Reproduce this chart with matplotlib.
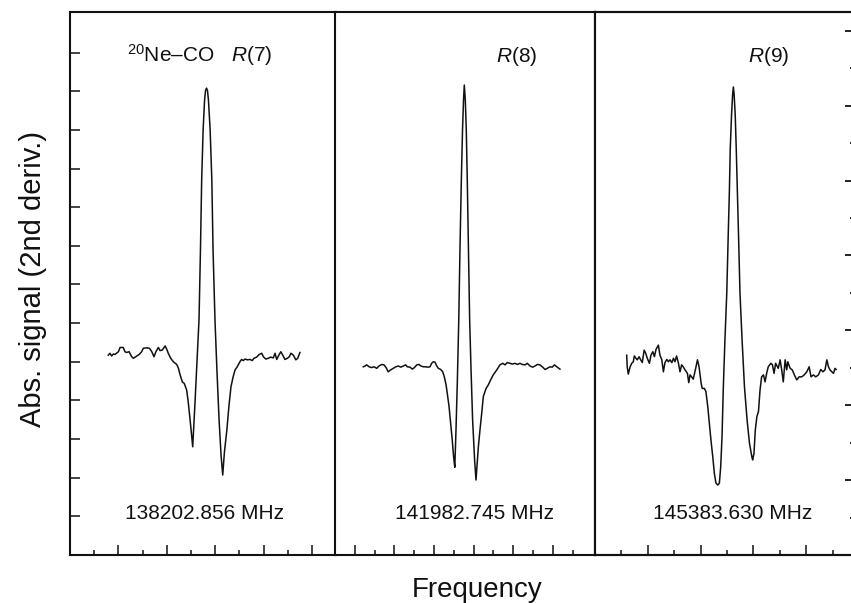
import matplotlib
matplotlib.use('Agg')
import matplotlib.pyplot as plt
from matplotlib.ticker import FixedLocator

plt.rcParams['font.family'] = ['Liberation Sans', 'DejaVu Sans']
plt.rcParams['mathtext.fontset'] = 'custom'
plt.rcParams['mathtext.rm'] = 'Liberation Sans'
plt.rcParams['mathtext.it'] = 'Liberation Sans:italic'

# ---------------- data (arbitrary units) ----------------
transitions = ['R(7)', 'R(8)', 'R(9)']
frequencies = ['138202.856 MHz', '141982.745 MHz', '145383.630 MHz']
species = '20Ne–CO'

x_r7 = [1.58, 1.65, 1.72, 1.79, 1.86, 2.00, 2.07, 2.20, 2.27, 2.34, 2.44, 2.55, 2.62, 2.76, 2.86,
        2.96, 3.03, 3.17, 3.28, 3.38, 3.47, 3.55, 3.65, 3.72, 3.81, 3.93, 4.00, 4.06, 4.16, 4.27,
        4.41, 4.48, 4.55, 4.64, 4.72, 4.82, 4.89, 4.99, 5.07, 5.17, 5.25, 5.33, 5.39, 5.44, 5.50,
        5.56, 5.60, 5.64, 5.68, 5.72, 5.79, 5.86, 5.91, 5.99, 6.07, 6.16, 6.24, 6.31, 6.38, 6.48,
        6.57, 6.65, 6.74, 6.82, 6.91, 7.02, 7.09, 7.16, 7.23, 7.33, 7.44, 7.53, 7.60, 7.71, 7.82,
        7.92, 7.99, 8.09, 8.19, 8.29, 8.40, 8.47, 8.54, 8.61, 8.71, 8.79, 8.88, 8.98, 9.06, 9.13,
        9.23, 9.33, 9.41, 9.50]
y_r7 = [5.17, 5.22, 5.15, 5.20, 5.19, 5.26, 5.37, 5.37, 5.26, 5.24, 5.26, 5.13, 5.09, 5.15, 5.19,
        5.26, 5.35, 5.36, 5.35, 5.26, 5.13, 5.26, 5.37, 5.29, 5.30, 5.41, 5.32, 5.22, 5.09, 5.00,
        4.93, 4.83, 4.66, 4.48, 4.44, 4.27, 3.93, 3.32, 2.80, 4.01, 5.05, 6.08, 7.89, 9.70, 11.00,
        11.77, 12.02, 12.08, 12.02, 11.77, 11.00, 9.70, 7.89, 6.08, 4.79, 3.49, 2.59, 2.07, 2.66, 3.23,
        3.88, 4.35, 4.61, 4.79, 4.87, 5.00, 5.06, 5.03, 5.07, 5.05, 5.06, 5.03, 5.09, 5.12, 5.19,
        5.22, 5.13, 5.07, 5.09, 5.12, 5.10, 5.22, 5.06, 5.15, 5.26, 5.17, 5.06, 5.09, 5.13, 5.22,
        5.17, 5.05, 5.09, 5.24]

x_r8 = [1.43, 1.52, 1.60, 1.72, 1.85, 1.97, 2.11, 2.22, 2.36, 2.47, 2.58, 2.69, 2.81, 2.94, 3.07,
        3.20, 3.32, 3.45, 3.57, 3.65, 3.79, 3.90, 4.01, 4.13, 4.24, 4.34, 4.46, 4.58, 4.68, 4.80,
        4.88, 4.96, 5.05, 5.14, 5.22, 5.34, 5.44, 5.52, 5.61, 5.67, 5.76, 5.84, 5.92, 5.99, 6.05,
        6.11, 6.18, 6.25, 6.31, 6.38, 6.44, 6.49, 6.53, 6.58, 6.63, 6.68, 6.74, 6.80, 6.87, 6.95,
        7.05, 7.12, 7.24, 7.32, 7.41, 7.49, 7.63, 7.74, 7.86, 7.99, 8.17, 8.33, 8.47, 8.59, 8.70,
        8.84, 8.95, 9.09, 9.21, 9.34, 9.46, 9.60, 9.71, 9.85, 9.98, 10.10, 10.22, 10.35, 10.49, 10.61,
        10.72, 10.86, 10.97, 11.08, 11.20, 11.36]
y_r8 = [4.87, 4.89, 4.92, 4.87, 4.85, 4.87, 4.83, 4.89, 4.93, 4.92, 4.85, 4.74, 4.79, 4.83, 4.87,
        4.89, 4.86, 4.89, 4.92, 4.87, 4.86, 4.81, 4.85, 4.92, 4.93, 4.89, 4.87, 4.87, 4.86, 4.87,
        4.96, 5.00, 4.99, 4.89, 4.83, 4.80, 4.74, 4.61, 4.40, 4.18, 3.84, 3.41, 2.98, 2.54, 2.27,
        3.23, 4.53, 6.08, 7.89, 9.70, 11.00, 11.77, 12.16, 11.77, 11.00, 9.70, 7.89, 6.08, 4.79, 3.49,
        2.46, 1.94, 2.80, 3.23, 3.67, 4.10, 4.31, 4.40, 4.53, 4.66, 4.79, 4.92, 4.96, 4.92, 4.98,
        4.96, 4.94, 4.96, 4.93, 4.96, 4.93, 4.92, 4.96, 4.89, 4.86, 4.89, 4.93, 4.92, 4.86, 4.80,
        4.83, 4.87, 4.86, 4.92, 4.87, 4.81]

x_r9 = [1.20, 1.22, 1.26, 1.33, 1.39, 1.45, 1.49, 1.55, 1.60, 1.67, 1.73, 1.79, 1.86, 1.92, 1.98,
        2.06, 2.12, 2.19, 2.25, 2.31, 2.40, 2.46, 2.53, 2.59, 2.65, 2.72, 2.78, 2.84, 2.91, 2.97,
        3.03, 3.09, 3.16, 3.22, 3.28, 3.34, 3.41, 3.50, 3.55, 3.60, 3.66, 3.72, 3.80, 3.88, 3.94,
        4.02, 4.06, 4.14, 4.20, 4.27, 4.33, 4.39, 4.46, 4.52, 4.58, 4.65, 4.71, 4.76, 4.81, 4.86,
        4.92, 4.99, 5.04, 5.09, 5.12, 5.17, 5.21, 5.24, 5.27, 5.31, 5.35, 5.39, 5.44, 5.49, 5.57,
        5.66, 5.76, 5.85, 5.94, 5.97, 6.02, 6.07, 6.13, 6.19, 6.25, 6.31, 6.38, 6.44, 6.50, 6.56,
        6.66, 6.72, 6.78, 6.84, 6.94, 7.01, 7.07, 7.13, 7.20, 7.26, 7.30, 7.39, 7.47, 7.55, 7.64,
        7.73, 7.83, 7.92, 8.02, 8.11, 8.18, 8.27, 8.36, 8.46, 8.55, 8.63, 8.71, 8.78, 8.84, 8.90,
        8.97, 9.03, 9.09, 9.13]
y_r9 = [5.17, 4.87, 4.68, 4.87, 4.96, 5.00, 5.15, 5.09, 5.05, 5.13, 5.05, 4.98, 5.30, 5.22, 5.09,
        4.96, 5.17, 5.26, 5.13, 5.32, 5.43, 5.17, 5.05, 4.74, 4.98, 5.06, 5.00, 5.05, 4.98, 5.09,
        5.00, 5.15, 4.96, 4.74, 4.92, 4.87, 4.79, 4.70, 4.46, 4.66, 4.61, 4.55, 4.79, 5.05, 4.87,
        4.44, 4.31, 4.31, 4.23, 3.84, 3.41, 2.98, 2.54, 2.11, 1.86, 1.81, 1.86, 2.28, 3.06, 4.35,
        5.56, 6.78, 8.15, 9.44, 10.48, 11.38, 11.90, 12.11, 11.90, 11.38, 10.48, 9.44, 8.15, 6.78, 5.56,
        4.35, 3.49, 2.89, 2.54, 2.46, 2.63, 3.23, 3.58, 3.71, 4.27, 4.61, 4.66, 4.48, 4.70, 4.87,
        4.96, 4.92, 4.70, 4.96, 4.83, 5.05, 4.79, 4.48, 5.05, 4.79, 5.00, 4.83, 4.79, 4.66, 4.53,
        4.61, 4.61, 4.66, 4.74, 4.87, 4.61, 4.66, 4.61, 4.66, 4.80, 4.74, 4.79, 5.05, 4.87, 4.79,
        4.74, 4.70, 4.83, 4.80]

xs = [x_r7, x_r8, x_r9]
ys = [y_r7, y_r8, y_r9]

# ---------------- layout ----------------
W, H = 851, 603
fig = plt.figure(figsize=(W / 100, H / 100), dpi=100)
ink = '#111111'
spine_lw = 1.5
panel_px = [(70, 336), (335, 595), (595, 853)]
xlims = [(0, 10.99), (0, 13.13), (0, 9.77)]
major_x = [[2, 4, 6, 8, 10], [1, 3, 5, 7, 9, 11], [2, 4, 6, 8]]
minor_x = [[1, 3, 5, 7, 9], [2, 4, 6, 8, 10, 12], [1, 3, 5, 7, 9]]
label_pos = [0.214, 0.619, 0.593]
freq_pos = [0.207, 0.231, 0.224]

axes = []
for i, (l, r) in enumerate(panel_px):
    ax = fig.add_axes([l / W, 48 / H, (r - l) / W, 543 / H])
    ax.plot(xs[i], ys[i], color=ink, lw=1.1, solid_joinstyle='round')
    ax.set_xlim(*xlims[i])
    ax.set_ylim(0, 14.05)
    for s in ax.spines.values():
        s.set_linewidth(spine_lw)
        s.set_color(ink)
    ax.xaxis.set_major_locator(FixedLocator(major_x[i]))
    ax.xaxis.set_minor_locator(FixedLocator(minor_x[i]))
    ax.tick_params(axis='x', which='major', direction='in', length=7.5, width=1.1,
                   color=ink, labelbottom=False, top=False)
    ax.tick_params(axis='x', which='minor', direction='in', length=3.8, width=1.1,
                   color=ink, top=False)
    if i == 0:
        ax.yaxis.set_major_locator(FixedLocator(list(range(1, 14))))
        ax.tick_params(axis='y', which='major', direction='in', length=7, width=1.1,
                       color=ink, labelleft=False, right=False)
    else:
        ax.set_yticks([])
    if i == 0:
        txt = r'$^{20}$Ne–CO   $\mathit{R}$(7)'
    else:
        txt = r'$\mathit{R}$(' + transitions[i][2:]
    ax.text(label_pos[i], 0.908, txt, transform=ax.transAxes, fontsize=15,
            ha='left', va='baseline', color=ink)
    ax.text(freq_pos[i], 0.0655, frequencies[i], transform=ax.transAxes, fontsize=15,
            ha='left', va='baseline', color=ink)
    axes.append(ax)

# right-hand tick scale on the last panel
axr = axes[2].twinx()
axr.set_ylim(0, 14.5)
axr.yaxis.set_major_locator(FixedLocator([2, 4, 6, 8, 10, 12, 14]))
axr.yaxis.set_minor_locator(FixedLocator([1, 3, 5, 7, 9, 11, 13]))
axr.tick_params(axis='y', which='major', direction='in', length=6, width=1.3,
                color=ink, labelright=False)
axr.tick_params(axis='y', which='minor', direction='in', length=2.5, width=1.3, color=ink)
for s in axr.spines.values():
    s.set_linewidth(spine_lw)
    s.set_color(ink)

fig.text(33 / W, 1 - 279 / H, 'Abs. signal (2nd deriv.)', rotation=90, fontsize=21,
         ha='center', va='center', color=ink)
fig.text(477 / W, 1 - 597 / H, 'Frequency', fontsize=20, ha='center', va='baseline',
         color=ink)

fig.savefig('out.png', dpi=100)
